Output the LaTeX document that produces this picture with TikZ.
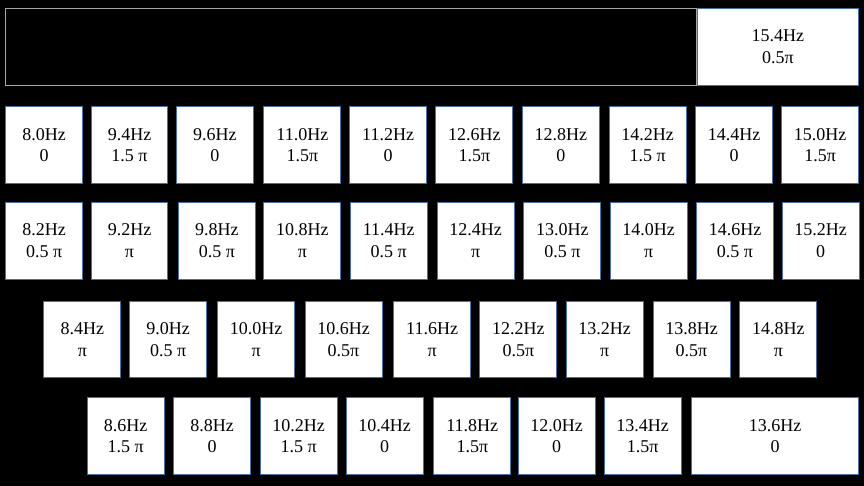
\documentclass[tikz,border=0pt]{standalone}
\usepackage{fontspec}
\setmainfont{Liberation Serif}
\definecolor{boxline}{HTML}{4A6FA5}
\definecolor{frameline}{HTML}{A6A6A6}
\begin{document}
\begin{tikzpicture}[x=1pt,y=-1pt,
  cell/.style={draw=boxline,line width=0.8pt,fill=white,inner sep=0pt,
    minimum width=77pt,minimum height=76.5pt,align=center,
    font=\fontsize{18}{21.6}\selectfont,text=black},
  frame/.style={draw=frameline,line width=0.8pt,fill=black,inner sep=0pt}]
\fill[black] (0,0) rectangle (864,486);
\useasboundingbox (0,0) rectangle (864,486);
% top row
\node[frame,minimum width=691pt,minimum height=76.7pt] (top) at (351.2,46.65) {};
\node[cell,minimum width=161.7pt,minimum height=76.7pt] (f154) at (777.85,46.65) {15.4Hz\\0.5π};
% row 1
\node[cell] (f80)  at (44.2,145)   {8.0Hz\\0};
\node[cell,minimum width=75.6pt] (f94)  at (129.5,145)  {9.4Hz\\1.5 π};
\node[cell] (f96)  at (214.8,145)  {9.6Hz\\0};
\node[cell] (f110) at (302.35,145) {11.0Hz\\1.5π};
\node[cell] (f112) at (388.15,145) {11.2Hz\\0};
\node[cell] (f126) at (474.35,145) {12.6Hz\\1.5π};
\node[cell] (f128) at (560.85,145) {12.8Hz\\0};
\node[cell] (f142) at (647.65,145) {14.2Hz\\1.5 π};
\node[cell] (f144) at (734,145)    {14.4Hz\\0};
\node[cell] (f150) at (820.2,145)  {15.0Hz\\1.5π};
% row 2
\node[cell] (f82)  at (44.2,240.85)  {8.2Hz\\0.5 π};
\node[cell,minimum width=75.6pt] (f92)  at (129.5,240.85)  {9.2Hz\\π};
\node[cell] (f98)  at (216.8,240.85)  {9.8Hz\\0.5 π};
\node[cell] (f108) at (302.35,240.85) {10.8Hz\\π};
\node[cell] (f114) at (388.7,240.85)  {11.4Hz\\0.5 π};
\node[cell] (f124) at (475.65,240.85) {12.4Hz\\π};
\node[cell] (f130) at (562.35,240.85) {13.0Hz\\0.5 π};
\node[cell] (f140) at (648.7,240.85)  {14.0Hz\\π};
\node[cell] (f146) at (735,240.85)    {14.6Hz\\0.5 π};
\node[cell] (f152) at (820.5,240.85)  {15.2Hz\\0};
% row 3
\node[cell] (f84)  at (82.3,339.5)  {8.4Hz\\π};
\node[cell] (f90)  at (168.2,339.5) {9.0Hz\\0.5 π};
\node[cell] (f100) at (256.2,339.5) {10.0Hz\\π};
\node[cell] (f106) at (343.5,339.5) {10.6Hz\\0.5π};
\node[cell] (f116) at (432.15,339.5) {11.6Hz\\π};
\node[cell] (f122) at (518.3,339.5) {12.2Hz\\0.5π};
\node[cell] (f132) at (604.7,339.5) {13.2Hz\\π};
\node[cell] (f138) at (691.5,339.5) {13.8Hz\\0.5π};
\node[cell] (f148) at (778.3,339.5) {14.8Hz\\π};
% row 4
\node[cell] (f86)  at (125.65,436) {8.6Hz\\1.5 π};
\node[cell] (f88)  at (212,436)    {8.8Hz\\0};
\node[cell] (f102) at (298.65,436) {10.2Hz\\1.5 π};
\node[cell] (f104) at (384.7,436)  {10.4Hz\\0};
\node[cell] (f118) at (472.3,436)  {11.8Hz\\1.5π};
\node[cell] (f120) at (556.7,436)  {12.0Hz\\0};
\node[cell] (f134) at (642.65,436) {13.4Hz\\1.5π};
\node[cell,minimum width=167.4pt] (f136) at (775,436) {13.6Hz\\0};
\end{tikzpicture}
\end{document}
